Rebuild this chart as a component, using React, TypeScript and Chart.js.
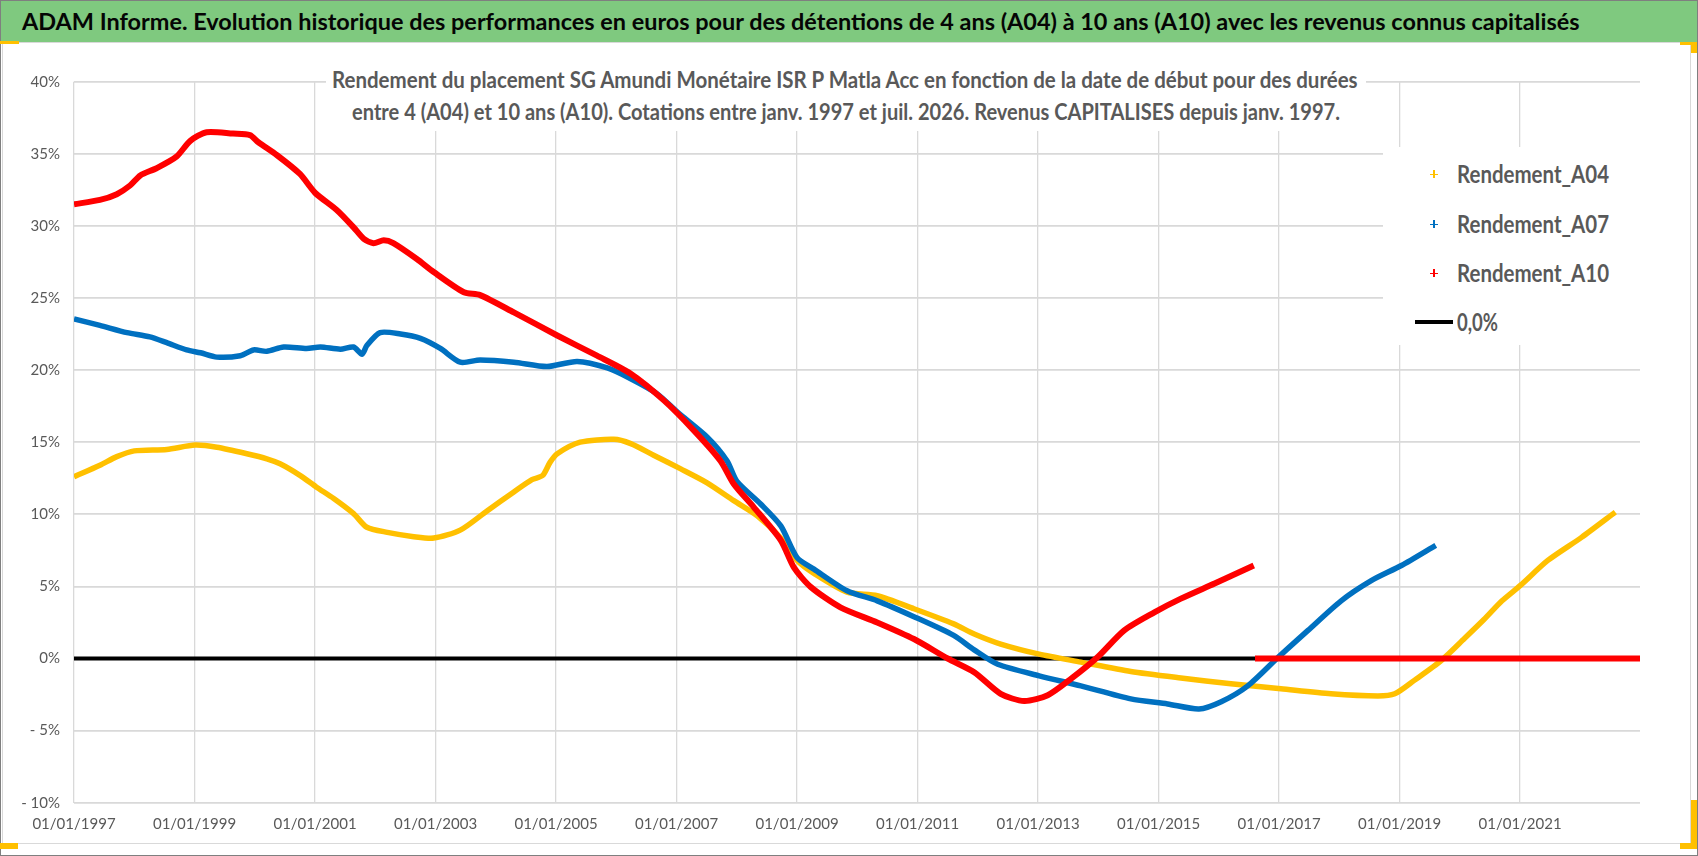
import React, { useEffect, useRef } from 'react';
import { Chart, registerables } from 'chart.js';

Chart.register(...registerables);

// x axis: decimal years, labelled every two years
const tickYears = [1997, 1999, 2001, 2003, 2005, 2007, 2009, 2011, 2013, 2015, 2017, 2019, 2021];

const a04Years = [
  1997.0, 1997.43, 1997.71, 1998.0, 1998.54, 1999.01, 1999.37, 1999.87, 2000.2, 2000.42,
  2000.75, 2001.02, 2001.31, 2001.64, 2001.86, 2002.2, 2002.64, 2002.97, 2003.41, 2003.86,
  2004.3, 2004.6, 2004.78, 2004.9, 2005.02, 2005.4, 2005.96, 2006.24, 2006.62, 2007.07,
  2007.5, 2007.95, 2008.34, 2008.72, 2009.0, 2009.28, 2009.83, 2010.33, 2010.94, 2011.6,
  2011.94, 2012.38, 2013.02, 2013.71, 2014.54, 2015.37, 2016.2, 2017.03, 2017.86, 2018.64,
  2018.92, 2019.25, 2019.69, 2020.08, 2020.4, 2020.7, 2021.0, 2021.46, 2022.02, 2022.58,
];
const a04Values = [
  12.6, 13.4, 14.0, 14.4, 14.5, 14.8, 14.65, 14.2, 13.85, 13.5,
  12.7, 11.9, 11.1, 10.05, 9.1, 8.75, 8.45, 8.35, 8.9, 10.25,
  11.55, 12.4, 12.7, 13.6, 14.2, 15.0, 15.2, 14.9, 14.1, 13.15,
  12.2, 10.95, 9.9, 8.4, 6.8, 5.9, 4.6, 4.35, 3.45, 2.4,
  1.7, 1.0, 0.3, -0.25, -0.9, -1.35, -1.75, -2.1, -2.45, -2.6,
  -2.45, -1.5, -0.15, 1.4, 2.7, 4.0, 5.05, 6.8, 8.4, 10.15,
];

const a07Years = [
  1997.0, 1997.43, 1997.88, 1998.26, 1998.54, 1998.87, 1999.1, 1999.37, 1999.76, 1999.98,
  2000.2, 2000.48, 2000.86, 2001.09, 2001.42, 2001.64, 2001.78, 2001.86, 2002.08, 2002.42,
  2002.75, 2003.08, 2003.41, 2003.74, 2004.3, 2004.85, 2005.35, 2005.85, 2006.24, 2006.68,
  2007.01, 2007.51, 2007.84, 2008.0, 2008.4, 2008.73, 2009.0, 2009.28, 2009.83, 2010.33,
  2010.94, 2011.6, 2011.94, 2012.33, 2013.02, 2013.71, 2014.54, 2015.15, 2015.67, 2016.04,
  2016.48, 2016.99, 2017.48, 2018.03, 2018.53, 2019.03, 2019.6,
];
const a07Values = [
  23.55, 23.1, 22.6, 22.3, 21.9, 21.4, 21.2, 20.9, 21.0, 21.4,
  21.3, 21.6, 21.5, 21.6, 21.45, 21.6, 21.1, 21.7, 22.6, 22.5,
  22.2, 21.5, 20.55, 20.7, 20.55, 20.25, 20.6, 20.15, 19.4, 18.35,
  17.1, 15.35, 13.7, 12.3, 10.7, 9.2, 7.0, 6.2, 4.7, 4.0,
  2.9, 1.6, 0.6, -0.4, -1.2, -1.9, -2.8, -3.15, -3.5, -3.0,
  -1.9, 0.1, 1.95, 4.0, 5.4, 6.45, 7.85,
];

const a10Years = [
  1997.0, 1997.43, 1997.71, 1997.93, 1998.1, 1998.37, 1998.7, 1998.93, 1999.2, 1999.64,
  1999.92, 2000.06, 2000.37, 2000.75, 2001.0, 2001.36, 2001.64, 2001.81, 2001.97, 2002.14,
  2002.3, 2002.69, 2002.97, 2003.47, 2003.74, 2004.3, 2005.02, 2005.68, 2006.24, 2006.79,
  2007.29, 2007.73, 2007.95, 2008.28, 2008.73, 2008.95, 2009.23, 2009.72, 2010.33, 2010.94,
  2011.5, 2011.94, 2012.38, 2012.77, 2013.16, 2013.55, 2013.99, 2014.43, 2014.93, 2015.37,
  2015.93, 2016.58,
];
const a10Values = [
  31.5, 31.8, 32.2, 32.8, 33.5, 34.0, 34.8, 35.9, 36.5, 36.4,
  36.3, 35.8, 34.9, 33.6, 32.3, 31.1, 29.9, 29.1, 28.8, 29.0,
  28.8, 27.7, 26.8, 25.4, 25.2, 24.0, 22.4, 21.0, 19.75, 17.9,
  15.8, 13.7, 12.1, 10.5, 8.2, 6.3, 4.95, 3.55, 2.5, 1.35,
  0.0, -0.95, -2.45, -2.95, -2.55, -1.4, 0.1, 1.95, 3.2, 4.15,
  5.2, 6.45,
];
// after its last quote the A10 series sits on 0 until the end of the axis
const a10TailYears = [2016.6, 2022.99];
const a10TailValues = [0, 0];

const zeroLineYears = [1997, 2022.99];
const zeroLineValues = [0, 0];

const headerText =
  'ADAM Informe. Evolution historique des performances en euros pour des détentions de 4 ans (A04) à 10 ans (A10) avec les revenus connus capitalisés';
const subtitleLines = [
  'Rendement du placement SG Amundi Monétaire ISR P Matla Acc en fonction de la date de début pour des durées',
  'entre 4 (A04) et 10 ans (A10). Cotations entre janv. 1997 et juil. 2026. Revenus CAPITALISES depuis janv. 1997.',
];
const seriesLabels = ['Rendement_A04', 'Rendement_A07', 'Rendement_A10'];
const zeroLabel = '0,0%';

const YELLOW = '#ffc000';
const BLUE = '#0070c0';
const RED = '#ff0000';
const GREY_TEXT = '#595959';
const GRID = '#d9d9d9';

const toPoints = (xs: number[], ys: (number | null)[]) => xs.map((x, i) => ({ x, y: ys[i] }));

const measureCtx = document.createElement('canvas').getContext('2d') as CanvasRenderingContext2D;
const textWidth = (text: string, font: string) => {
  measureCtx.font = font;
  return measureCtx.measureText(text).width;
};

interface FitTextProps {
  text: string;
  left: number;
  baseline: number;
  width: number;
  size: number;
  color: string;
}

// Lato: ascent 0.987em, line box 1.2em -> baseline sits 0.987em under the top
const FitText: React.FC<FitTextProps> = ({ text, left, baseline, width, size, color }) => {
  const font = `bold ${size}px Lato`;
  const sx = width / textWidth(text, font);
  return (
    <div
      style={{
        position: 'absolute',
        left,
        top: baseline - 0.987 * size,
        font,
        lineHeight: `${size * 1.2}px`,
        color,
        whiteSpace: 'nowrap',
        transform: `scaleX(${sx})`,
        transformOrigin: 'left top',
      }}
    >
      {text}
    </div>
  );
};

const Cross: React.FC<{ x: number; y: number; color: string }> = ({ x, y, color }) => (
  <>
    <div style={{ position: 'absolute', left: x - 4, top: y - 0.75, width: 8, height: 1.5, background: color }} />
    <div style={{ position: 'absolute', left: x - 0.75, top: y - 4, width: 1.5, height: 8, background: color }} />
  </>
);

const abs = (l: number, t: number, w: number, h: number, bg: string): React.CSSProperties => ({
  position: 'absolute',
  left: l,
  top: t,
  width: w,
  height: h,
  background: bg,
});

export default function App() {
  const canvasRef = useRef<HTMLCanvasElement | null>(null);

  useEffect(() => {
    const ctx = canvasRef.current?.getContext('2d');
    if (!ctx) return;

    const a10Points = [
      ...toPoints(a10Years, a10Values),
      { x: 2016.59, y: null },
      ...toPoints(a10TailYears, a10TailValues),
    ];

    const chart = new Chart(ctx, {
      type: 'line',
      data: {
        datasets: [
          {
            label: seriesLabels[2],
            data: a10Points,
            borderColor: RED,
            borderWidth: 6,
            pointRadius: 0,
            tension: 0.25,
            spanGaps: false,
            order: 1,
          },
          {
            label: seriesLabels[1],
            data: toPoints(a07Years, a07Values),
            borderColor: BLUE,
            borderWidth: 5.5,
            pointRadius: 0,
            tension: 0.25,
            order: 2,
          },
          {
            label: seriesLabels[0],
            data: toPoints(a04Years, a04Values),
            borderColor: YELLOW,
            borderWidth: 5.5,
            pointRadius: 0,
            tension: 0.25,
            order: 3,
          },
          {
            label: zeroLabel,
            data: toPoints(zeroLineYears, zeroLineValues),
            borderColor: '#000000',
            borderWidth: 4,
            pointRadius: 0,
            order: 4,
          },
        ],
      },
      options: {
        responsive: false,
        animation: false,
        layout: { padding: { left: 0, top: 81.7, right: 58, bottom: 13.3 } },
        plugins: {
          legend: { display: false },
          title: { display: false },
          tooltip: { enabled: false },
        },
        scales: {
          x: {
            type: 'linear',
            min: 1997,
            max: 2022.99,
            afterBuildTicks: (scale: any) => {
              scale.ticks = tickYears.map(v => ({ value: v }));
            },
            afterFit: (scale: any) => {
              scale.height = 40;
            },
            ticks: {
              autoSkip: false,
              maxRotation: 0,
              padding: 12,
              color: GREY_TEXT,
              font: { family: 'Lato', size: 15 },
              callback: (v: any) => `01/01/${v}`,
            },
            grid: { color: GRID, lineWidth: 1.3, drawTicks: false },
            border: { display: false },
          },
          y: {
            type: 'linear',
            min: -10,
            max: 40,
            afterFit: (scale: any) => {
              scale.width = 74;
            },
            ticks: {
              stepSize: 5,
              padding: 14,
              color: GREY_TEXT,
              font: { family: 'Lato', size: 15 },
              callback: (v: any) => (v < 0 ? `- ${Math.abs(v)}%` : `${v}%`),
            },
            grid: { color: GRID, lineWidth: 1.7, drawTicks: false },
            border: { display: false },
          },
        },
      },
    });

    return () => {
      chart.destroy();
    };
  }, []);

  const legendColors = [YELLOW, BLUE, RED];
  const legendBaselines = [182.3, 232.7, 281.7];
  const legendMarkY = [174.3, 224.3, 273.3];

  return (
    <div style={{ position: 'fixed', left: 0, top: 0, width: 1698, height: 856, background: '#fff', overflow: 'hidden' }}>
      {/* chart frame */}
      <div
        style={{
          position: 'absolute',
          left: 2,
          top: 42,
          width: 1689,
          height: 802,
          border: `1.5px solid ${GRID}`,
          boxSizing: 'border-box',
        }}
      />
      <canvas ref={canvasRef} width={1698} height={856} style={{ position: 'absolute', left: 0, top: 0 }} />

      {/* green header */}
      <div style={abs(1, 1, 1696, 41, '#7fc97f')} />
      <FitText text={headerText} left={22} baseline={31} width={1558} size={23} color="#050505" />

      {/* chart title over the plot */}
      <div style={abs(326, 64, 1040, 67, '#fff')} />
      <FitText text={subtitleLines[0]} left={332} baseline={88.3} width={1028} size={22} color={GREY_TEXT} />
      <FitText text={subtitleLines[1]} left={352} baseline={120.3} width={988} size={22} color={GREY_TEXT} />

      {/* legend */}
      <div style={abs(1383, 147, 257, 198, '#fff')} />
      {seriesLabels.map((label, i) => (
        <React.Fragment key={label}>
          <Cross x={1434} y={legendMarkY[i]} color={legendColors[i]} />
          <FitText text={label} left={1457} baseline={legendBaselines[i]} width={152} size={25} color={GREY_TEXT} />
        </React.Fragment>
      ))}
      <div style={abs(1415, 320, 38, 4, '#000')} />
      <FitText text={zeroLabel} left={1457} baseline={331} width={41} size={25} color={GREY_TEXT} />

      {/* outer border */}
      <div
        style={{
          position: 'absolute',
          left: 0,
          top: 0,
          width: 1698,
          height: 856,
          border: '1.5px solid #7f7f7f',
          boxSizing: 'border-box',
        }}
      />

      {/* selection handles */}
      <div style={abs(0, 41, 19, 3, YELLOW)} />
      <div style={abs(0, 843, 18, 6, YELLOW)} />
      <div style={abs(1680, 42, 17, 3, YELLOW)} />
      <div style={abs(1691, 42, 6, 11, YELLOW)} />
      <div style={abs(1691, 800, 6, 49, YELLOW)} />
      <div style={abs(1680, 843, 17, 6, YELLOW)} />
    </div>
  );
}
